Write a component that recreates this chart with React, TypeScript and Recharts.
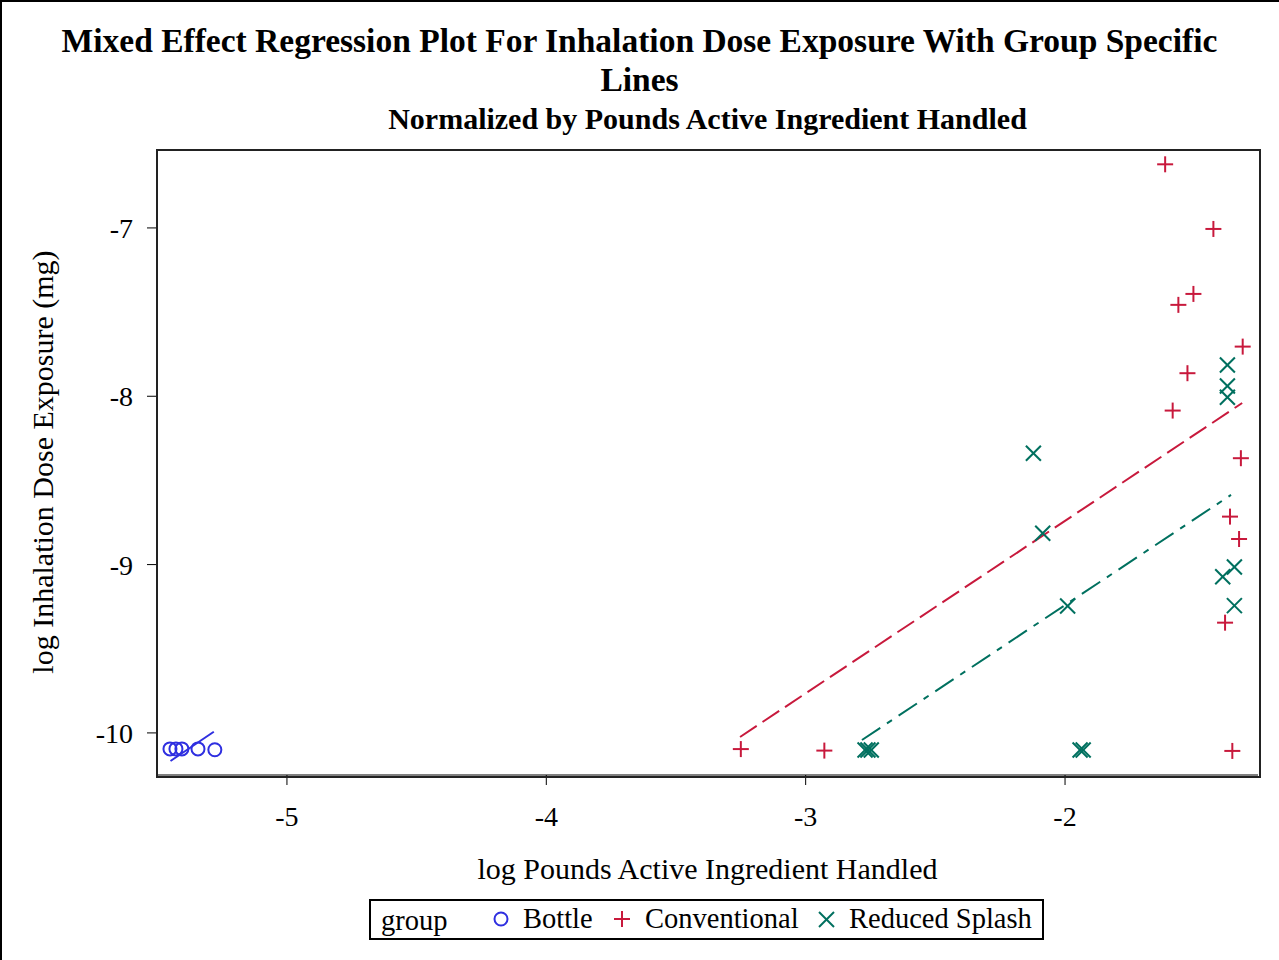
import React from 'react';
import { ScatterChart, Scatter, XAxis, YAxis } from 'recharts';

// group observations (log pounds AI handled, log inhalation dose)
const bottleX = [-5.451, -5.428, -5.405, -5.343, -5.278];
const bottleY = [-10.095, -10.095, -10.095, -10.095, -10.1];

const convX = [-3.25, -2.928, -1.614, -1.428, -1.563, -1.505, -1.315, -1.528, -1.585, -1.322, -1.364, -1.329, -1.383, -1.355];
const convY = [-10.096, -10.105, -6.622, -7.006, -7.457, -7.392, -7.705, -7.863, -8.085, -8.368, -8.715, -8.848, -9.345, -10.107];

const splashX = [-2.771, -2.76, -2.747, -1.942, -1.93, -2.122, -2.086, -1.99, -1.374, -1.374, -1.374, -1.347, -1.392, -1.347];
const splashY = [-10.101, -10.101, -10.101, -10.101, -10.101, -8.339, -8.814, -9.246, -7.814, -7.939, -8.006, -9.014, -9.072, -9.244];

// group specific fitted lines (end points)
const bottleFitX = [-5.449, -5.282];
const bottleFitY = [-10.167, -9.993];
const convFitX = [-3.253, -1.317];
const convFitY = [-10.024, -8.04];
const splashFitX = [-2.783, -1.36];
const splashFitY = [-10.042, -8.586];

const xTicks = [-5, -4, -3, -2];
const yTicks = [-10, -9, -8, -7];

const BLUE = '#2f2fe0';
const RED = '#c8193c';
const TEAL = '#00705f';
const FONT = '"Liberation Serif", "Times New Roman", serif';

const zip = (xs: number[], ys: number[]) => xs.map((x, i) => ({ x, y: ys[i] }));

const Circle = (p: any) => <circle cx={p.cx} cy={p.cy} r={6.5} fill="none" stroke={BLUE} strokeWidth={2} />;
const Plus = (p: any) => (
  <g stroke={RED} strokeWidth={2}>
    <line x1={p.cx - 8} y1={p.cy} x2={p.cx + 8} y2={p.cy} />
    <line x1={p.cx} y1={p.cy - 8} x2={p.cx} y2={p.cy + 8} />
  </g>
);
const Cross = (p: any) => (
  <g stroke={TEAL} strokeWidth={2}>
    <line x1={p.cx - 7.5} y1={p.cy - 7.5} x2={p.cx + 7.5} y2={p.cy + 7.5} />
    <line x1={p.cx - 7.5} y1={p.cy + 7.5} x2={p.cx + 7.5} y2={p.cy - 7.5} />
  </g>
);
const NoDot = () => <g />;

const tickStyle = { fill: '#000', fontSize: 28, fontFamily: FONT };

export default function App() {
  return (
    <div style={{ position: 'relative', width: 1279, height: 960, background: '#fff', fontFamily: FONT }}>
      <style>{'body{margin:0}'}</style>
      <ScatterChart width={1279} height={960} margin={{ top: 150, right: 21, left: 97, bottom: 145 }}>
        <XAxis
          type="number"
          dataKey="x"
          domain={[-5.501, -1.256]}
          ticks={xTicks}
          allowDataOverflow
          height={40}
          tickSize={10}
          tickMargin={21}
          stroke="#000"
          tick={tickStyle}
        />
        <YAxis
          type="number"
          dataKey="y"
          domain={[-10.25, -6.537]}
          ticks={yTicks}
          allowDataOverflow
          width={60}
          tickSize={10}
          tickMargin={14}
          stroke="#000"
          tick={tickStyle}
        />
        <Scatter data={zip(bottleFitX, bottleFitY)} line={{ stroke: BLUE, strokeWidth: 2 }} shape={NoDot} isAnimationActive={false} />
        <Scatter data={zip(convFitX, convFitY)} line={{ stroke: RED, strokeWidth: 2, strokeDasharray: '20 7' }} shape={NoDot} isAnimationActive={false} />
        <Scatter data={zip(splashFitX, splashFitY)} line={{ stroke: TEAL, strokeWidth: 2, strokeDasharray: '22 8 6 8' }} shape={NoDot} isAnimationActive={false} />
        <Scatter name="Bottle" data={zip(bottleX, bottleY)} shape={Circle} isAnimationActive={false} />
        <Scatter name="Conventional" data={zip(convX, convY)} shape={Plus} isAnimationActive={false} />
        <Scatter name="Reduced Splash" data={zip(splashX, splashY)} shape={Cross} isAnimationActive={false} />
      </ScatterChart>

      {/* plot frame */}
      <div style={{ position: 'absolute', left: 156, top: 149, width: 1101, height: 625, border: '2px solid #222', pointerEvents: 'none' }} />
      {/* outer frame */}
      <div style={{ position: 'absolute', left: 0, top: 0, width: 1277, height: 960, borderLeft: '2px solid #000', borderTop: '2px solid #000', borderRight: '2px solid #000', pointerEvents: 'none' }} />

      <div style={{ position: 'absolute', left: 0, width: 1279, top: 21, textAlign: 'center', fontWeight: 'bold', fontSize: 33.5, lineHeight: '39px' }}>
        Mixed Effect Regression Plot For Inhalation Dose Exposure With Group Specific
        <br />
        Lines
      </div>
      <div style={{ position: 'absolute', left: 157, width: 1101, top: 102, textAlign: 'center', fontWeight: 'bold', fontSize: 30 }}>
        Normalized by Pounds Active Ingredient Handled
      </div>
      <div style={{ position: 'absolute', left: 157, width: 1101, top: 852, textAlign: 'center', fontSize: 30 }}>
        log Pounds Active Ingredient Handled
      </div>
      <div
        style={{
          position: 'absolute', left: 43, top: 462, whiteSpace: 'nowrap', fontSize: 30,
          transform: 'translate(-50%, -50%) rotate(-90deg)',
        }}
      >
        log Inhalation Dose Exposure (mg)
      </div>

      <svg style={{ position: 'absolute', left: 369, top: 899 }} width={676} height={42}>
        <rect x={1} y={1} width={673} height={39} fill="none" stroke="#000" strokeWidth={2} />
        <text x={12} y={31} fontSize={28.5} fontFamily={FONT}>group</text>
        <circle cx={132} cy={20} r={6.5} fill="none" stroke={BLUE} strokeWidth={2} />
        <text x={154} y={29} fontSize={28.5} fontFamily={FONT}>Bottle</text>
        <g stroke={RED} strokeWidth={2}>
          <line x1={245} y1={20} x2={261} y2={20} />
          <line x1={253} y1={12} x2={253} y2={28} />
        </g>
        <text x={276} y={29} fontSize={28.5} fontFamily={FONT}>Conventional</text>
        <g stroke={TEAL} strokeWidth={2}>
          <line x1={450} y1={13} x2={465} y2={28} />
          <line x1={450} y1={28} x2={465} y2={13} />
        </g>
        <text x={480} y={29} fontSize={28.5} fontFamily={FONT}>Reduced Splash</text>
      </svg>
    </div>
  );
}
